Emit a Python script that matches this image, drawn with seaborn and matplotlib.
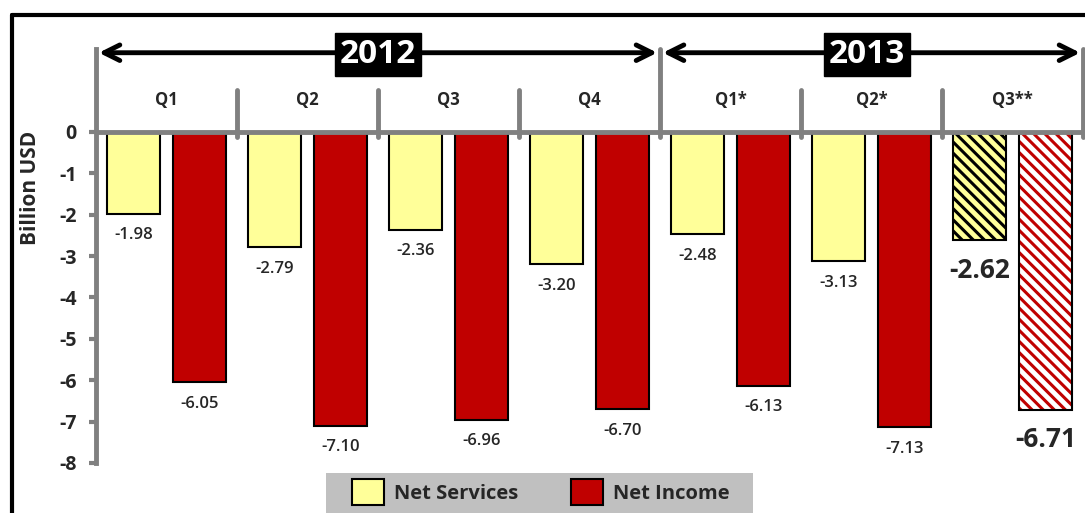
import pandas as pd
import numpy as np
import seaborn as sns
import matplotlib.pyplot as plt
from matplotlib.lines import Line2D
from matplotlib.patches import Rectangle


# chart data
quarters = ["Q1", "Q2", "Q3", "Q4", "Q1*", "Q2*", "Q3**"]
years = ["2012", "2013"]
net_services = [-1.98, -2.79, -2.36, -3.20, -2.48, -3.13, -2.62]
net_income = [-6.05, -7.10, -6.96, -6.70, -6.13, -7.13, -6.71]
series_names = ["Net Services", "Net Income"]

df = pd.DataFrame({
    "quarter": quarters * 2,
    "series": [series_names[0]] * 7 + [series_names[1]] * 7,
    "value": net_services + net_income,
})

sns.set_style("white")
plt.rcParams["font.family"] = ["Open Sans", "DejaVu Sans"]
plt.rcParams["hatch.linewidth"] = 2.2

yellow = "#FFFF99"
red = "#C00000"
grey = "#808080"

fig = plt.figure(figsize=(10.85, 5.13), dpi=100)
ax = fig.add_axes([96 / 1085, 1 - 463 / 513, 987 / 1085, 414 / 513])

sns.barplot(data=df, x="quarter", y="value", hue="series", order=quarters,
            hue_order=series_names, palette=[yellow, red], width=0.94, gap=0.21,
            edgecolor="black", linewidth=1.5, saturation=1, ax=ax, legend=True)

ax.set_xlim(-0.5, 6.5)
ax.set_ylim(-8, 2)

# last quarter is hatched (preliminary)
ys_bar = ax.containers[0][6]
ys_bar.set_hatch("\\\\\\")
ys_bar.set_edgecolor("black")
ri_bar = ax.containers[1][6]
ri_bar.set_facecolor("white")
ri_bar.set_edgecolor(red)
ri_bar.set_hatch("\\\\\\")
ri_bar.set_linewidth(0)
ax.add_patch(Rectangle(ri_bar.get_xy(), ri_bar.get_width(), ri_bar.get_height(),
                       fill=False, edgecolor="black", linewidth=1.5, zorder=5))

# value labels
for cont in ax.containers:
    for i, bar in enumerate(cont):
        v = bar.get_height()
        xc = bar.get_x() + bar.get_width() / 2
        if i == 6:
            ax.text(xc, v - 0.72, f"{v:.2f}", ha="center", va="center",
                    fontsize=19, fontweight="bold")
        else:
            ax.text(xc, v - 0.52, f"{v:.2f}", ha="center", va="center",
                    fontsize=12, fontweight="semibold")

# axes styling
for s in ["top", "right", "bottom"]:
    ax.spines[s].set_visible(False)
ax.spines["left"].set_color(grey)
ax.spines["left"].set_linewidth(3.5)
ax.set_yticks(range(0, -9, -1))
ax.set_yticklabels([str(t) for t in range(0, -9, -1)], fontsize=14, fontweight="bold")
ax.tick_params(axis="y", left=True, length=5, width=3, color=grey, pad=9)
ax.set_xticks([])
ax.set_xlabel("")
ax.set_ylabel("")
ax.axhline(0, color=grey, lw=3.5, zorder=6, xmin=0, xmax=1)

# quarter header
for i, q in enumerate(quarters):
    ax.text(i, 0.77, q, ha="center", va="center", fontsize=12, fontweight="bold")
for xb in [0.5, 1.5, 2.5, 4.5, 5.5]:
    ax.plot([xb, xb], [-0.12, 1.02], color=grey, lw=3.5, clip_on=False)
for xb in [3.5, 6.5]:
    ax.plot([xb, xb], [-0.12, 2.0], color=grey, lw=3.5, clip_on=False)

# year arrows
spans = [(-0.5, 3.5), (3.5, 6.5)]
for (x0, x1), yr in zip(spans, years):
    ax.annotate("", xy=(x0 + 0.02, 1.91), xytext=(x1 - 0.02, 1.91),
                arrowprops=dict(arrowstyle="<->", lw=3.5, color="black",
                                mutation_scale=28, shrinkA=0, shrinkB=0),
                annotation_clip=False)
    ax.text((x0 + x1) / 2 + (0.0 if yr == "2012" else -0.03), 1.87, yr,
            ha="center", va="center", fontsize=24, fontweight="bold", color="white",
            bbox=dict(boxstyle="square,pad=0.15", fc="black", ec="black"))

fig.text(30 / 1085, 1 - 188 / 513, "Billion USD", rotation=90, ha="center",
         va="center", fontsize=15, fontweight="bold")

# legend on a grey band
fig.add_artist(Rectangle((326 / 1085, 0), 427 / 1085, 40 / 513,
                         transform=fig.transFigure, facecolor="#C0C0C0",
                         edgecolor="none", zorder=0))
h, l = ax.get_legend_handles_labels()
ax.legend(h[:2], series_names, ncol=2, loc="center",
          bbox_to_anchor=(541 / 1085, 1 - 492 / 513), bbox_transform=fig.transFigure,
          frameon=False, prop={"size": 14.5, "weight": "bold"},
          handlelength=1.6, handleheight=1.6, columnspacing=2.6,
          handletextpad=0.5, borderaxespad=0, borderpad=0)

# outer frame
fig.add_artist(Line2D([12 / 1085, 1], [1 - 15 / 513, 1 - 15 / 513], color="black", lw=3))
fig.add_artist(Line2D([12 / 1085, 12 / 1085], [0, 1 - 15 / 513], color="black", lw=3))

fig.savefig("out.png", dpi=100)
